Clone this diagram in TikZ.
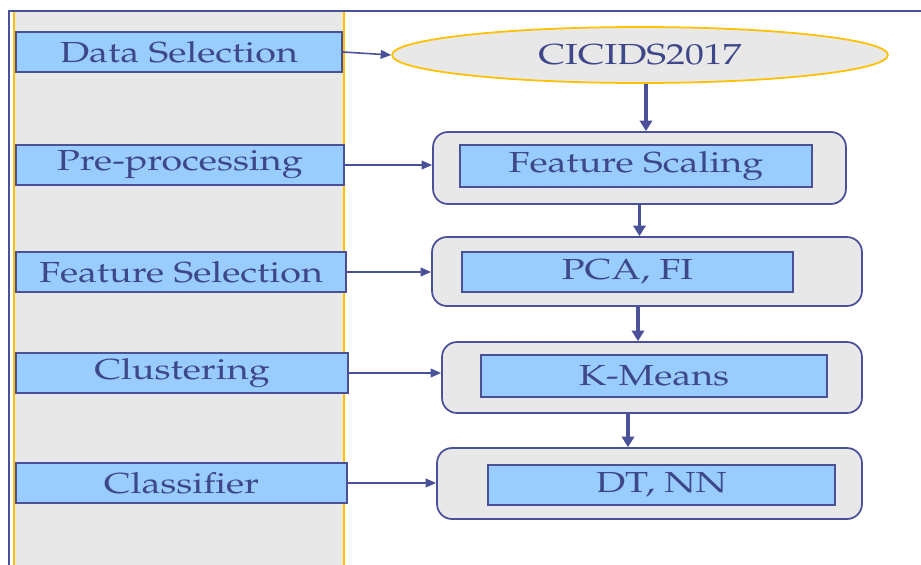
\documentclass[tikz,border=0pt]{standalone}
\usepackage[T1]{fontenc}
\usepackage{mathpazo}
\usepackage{graphicx}
\usetikzlibrary{positioning,shapes.geometric,arrows.meta}
\definecolor{boxblue}{HTML}{99CCFF}
\definecolor{lineblue}{HTML}{4A5199}
\definecolor{inkblue}{HTML}{3E4789}
\definecolor{panelgray}{HTML}{E8E8E8}
\definecolor{paneledge}{HTML}{FFC000}
\newcommand{\widetxt}[1]{\scalebox{1.3}[1]{#1}}
\tikzset{
  stage/.style={draw=lineblue, fill=boxblue, line width=1pt, inner sep=0pt,
    minimum height=0.8cm, text=inkblue, font=\fontsize{16.5}{18}\selectfont},
  holder/.style={draw=lineblue, fill=panelgray, rounded corners=0.3cm,
    line width=1pt, inner sep=0pt},
  feed/.style={-{Triangle[length=6pt,width=5pt]}, lineblue, line width=0.9pt},
  flow/.style={-{Triangle[length=6pt,width=7pt]}, lineblue, line width=2.2pt}
}

\begin{document}
\begin{tikzpicture}[x=0.02cm, y=-0.02cm]
  \useasboundingbox (0,0) rectangle (921,565);
  % left panel and frame
  \fill[panelgray] (14,12) rectangle (344,565);
  \draw[paneledge, line width=1pt] (14,12) -- (14,565) (344,12) -- (344,565);
  \draw[lineblue, line width=1pt] (9,565) -- (9,11) -- (921,11);

  % phases
  \node[stage, minimum width=6.52cm] (sel) at (179,52) {\widetxt{Data Selection}};
  \node[stage, minimum width=6.56cm] (pre) at (180,165) {\widetxt{Pre-processing}};
  \node[stage, minimum width=6.60cm] (fsel) at (181,272) {\widetxt{Feature Selection}};
  \node[stage, minimum width=6.64cm] (clu) at (182,373) {\widetxt{Clustering}};
  \node[stage, minimum width=6.62cm] (cls) at (181.5,483) {\widetxt{Classifier}};

  % dataset
  \node[ellipse, draw=paneledge, fill=panelgray, line width=1pt, minimum width=9.92cm,
    minimum height=1.12cm, text=inkblue, font=\fontsize{16.5}{18}\selectfont]
    (cic) at (640,55) {\widetxt{CICIDS2017}};

  % methods
  \node[holder, minimum width=8.26cm, minimum height=1.44cm] (scalebox) at (639.5,168) {};
  \node[stage, minimum width=7.04cm, minimum height=0.84cm] (scale) at (636,166) {\widetxt{Feature Scaling}};
  \node[holder, minimum width=8.60cm, minimum height=1.38cm] (pcabox) at (647,271.5) {};
  \node[stage, minimum width=6.62cm] (pca) at (627.5,272) {\widetxt{PCA, FI}};
  \node[holder, minimum width=8.40cm, minimum height=1.42cm] (kmbox) at (652,377.5) {};
  \node[stage, minimum width=6.92cm, minimum height=0.84cm] (km) at (654,376) {\widetxt{K-Means}};
  \node[holder, minimum width=8.50cm, minimum height=1.42cm] (dtbox) at (649.5,483.5) {};
  \node[stage, minimum width=6.94cm] (dt) at (661.5,485) {\widetxt{DT, NN}};

  % phase to method
  \draw[feed] (sel.east) -- (cic.west);
  \draw[feed] (pre.east) -- (pre.east -| scalebox.west);
  \draw[feed] (fsel.east) -- (fsel.east -| pcabox.west);
  \draw[feed] (clu.east) -- (clu.east -| kmbox.west);
  \draw[feed] (cls.east) -- (cls.east -| dtbox.west);

  % pipeline
  \draw[flow] ([xshift=0.12cm]cic.south) -- ([xshift=0.12cm]cic.south |- scalebox.north);
  \draw[flow] (scalebox.south) -- (scalebox.south |- pcabox.north);
  \draw[flow] ([xshift=-0.18cm]pcabox.south) -- ([xshift=-0.18cm]pcabox.south |- kmbox.north);
  \draw[flow] ([xshift=-0.48cm]kmbox.south) -- ([xshift=-0.48cm]kmbox.south |- dtbox.north);
\end{tikzpicture}
\end{document}
